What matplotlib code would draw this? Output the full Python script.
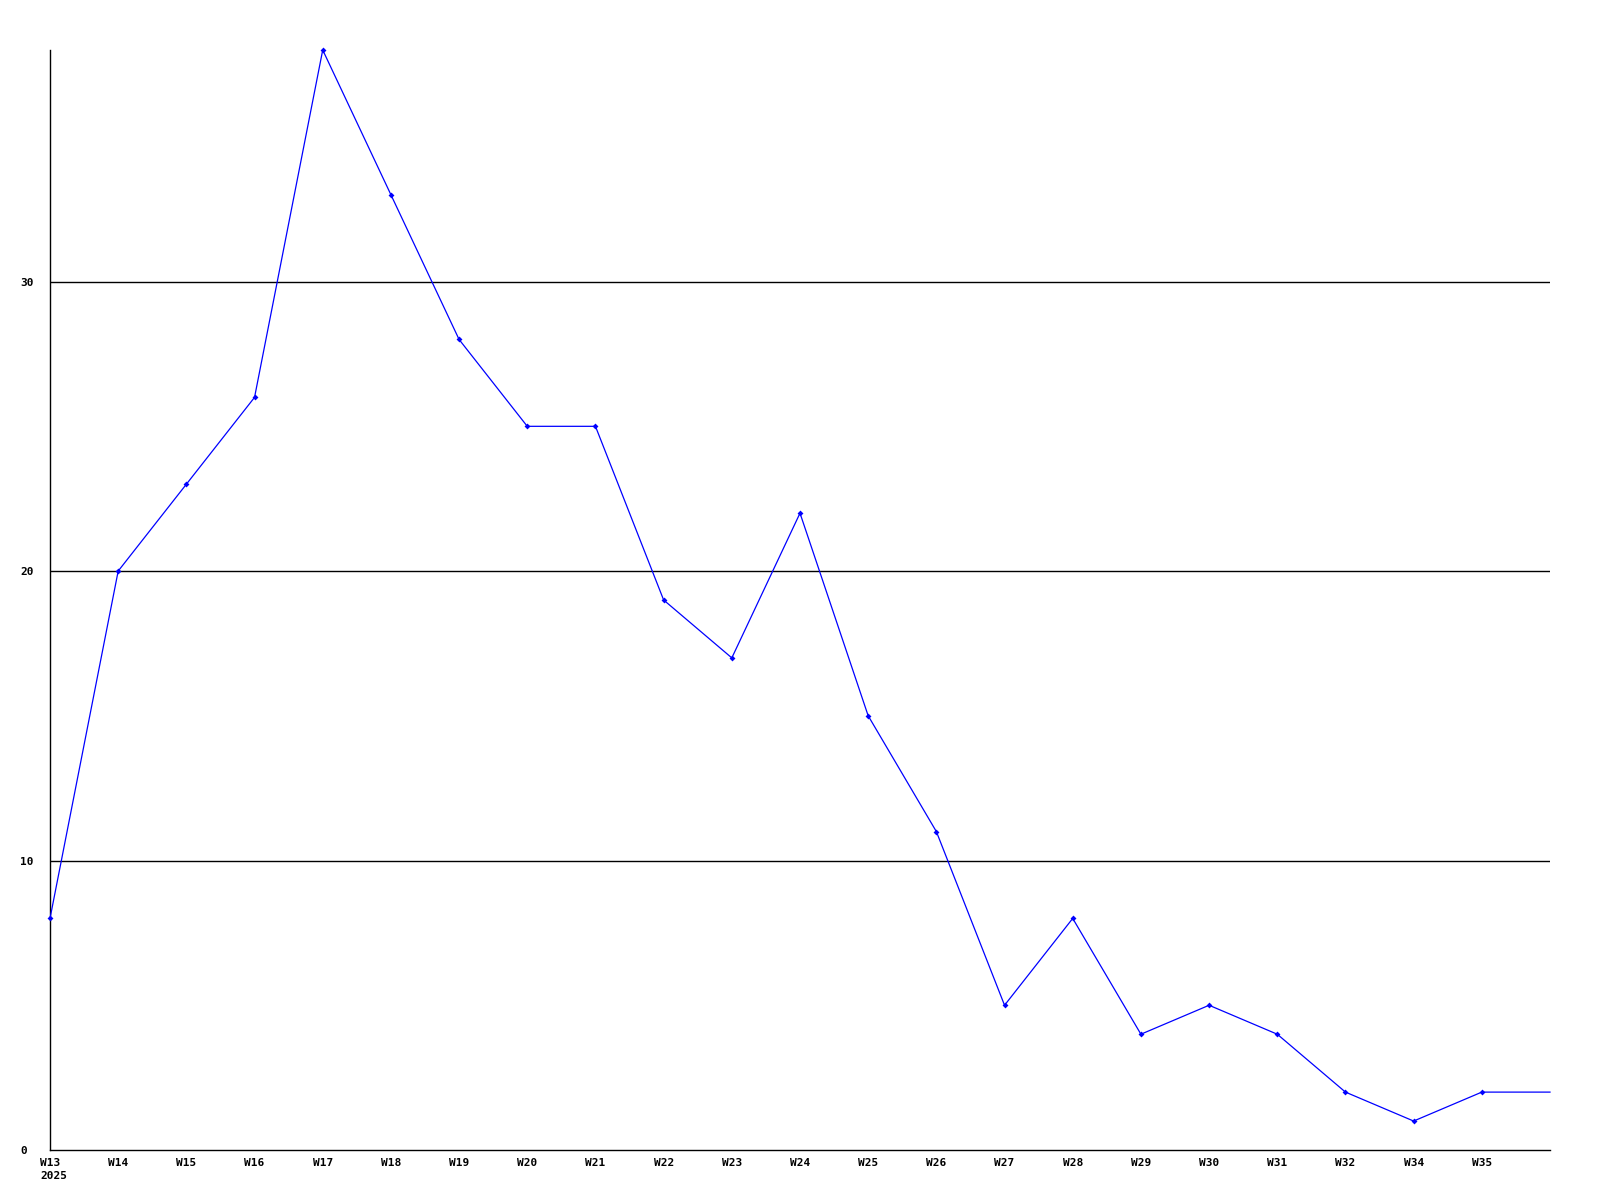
import matplotlib
matplotlib.use("Agg")
import matplotlib.pyplot as plt

# weekly counts, last point is the running (unlabelled) week
weeks = ["W13", "W14", "W15", "W16", "W17", "W18", "W19", "W20", "W21", "W22",
         "W23", "W24", "W25", "W26", "W27", "W28", "W29", "W30", "W31", "W32",
         "W34", "W35", ""]
values = [8, 20, 23, 26, 38, 33, 28, 25, 25, 19, 17, 22, 15, 11, 5, 8, 4, 5, 4, 2,
          1, 2, 2]
yticks = [0, 10, 20, 30]
year = "2025"

font = dict(family="DejaVu Sans Mono", fontweight="bold", fontsize=8)

fig = plt.figure(figsize=(16, 12), dpi=100)
ax = fig.add_axes([50 / 1600, 50 / 1200, 1500 / 1600, 1100 / 1200])

x = list(range(len(values)))
ax.plot(x, values, "-", color="#0000ff", lw=0.9, marker="D", ms=3,
        markeredgewidth=0, markevery=list(range(len(values) - 1)),
        zorder=5, clip_on=False)

for v in yticks[1:]:
    ax.axhline(v, color="black", lw=1, zorder=1)

ax.set_xlim(0, len(values) - 1)
ax.set_ylim(0, 38)

ax.set_xticks(x[:-1])
ax.set_xticklabels(weeks[:-1], va="top", **font)
ax.annotate(year, xy=(0, 0), xycoords=("data", "axes fraction"),
            xytext=(-10, -21), textcoords="offset pixels",
            ha="left", va="top", **font)
ax.set_yticks(yticks)
ax.set_yticklabels([str(v) for v in yticks], ha="left", **font)
ax.tick_params(length=0, pad=6)
ax.tick_params(axis="y", pad=21.5)

for s in ["top", "right"]:
    ax.spines[s].set_visible(False)
ax.spines["left"].set_linewidth(1)
ax.spines["bottom"].set_linewidth(1)

fig.savefig("out.png", dpi=100)
plt.close(fig)
